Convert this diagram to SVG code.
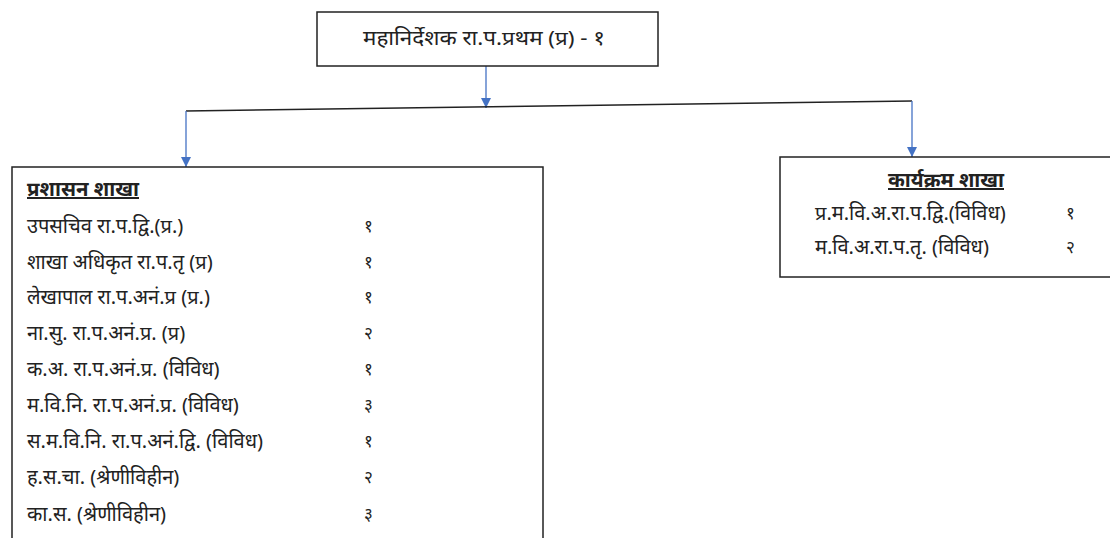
<svg xmlns="http://www.w3.org/2000/svg" width="1110" height="538" viewBox="0 0 1110 538">
<style>
text{font-family:"Noto Sans","Noto Sans Devanagari","Liberation Sans",sans-serif;font-size:20px;fill:#222}
.box{fill:#fff;stroke:#222;stroke-width:1.5}
.hd{text-decoration:underline;font-weight:bold}
.num{font-size:17px}
.con{stroke:#4472c4;stroke-width:1.3;fill:none}
.blk{stroke:#222;stroke-width:1.5;fill:none}
</style>
<defs>
<marker id="ah" viewBox="0 0 10 10" refX="10" refY="5" markerWidth="10" markerHeight="10" markerUnits="userSpaceOnUse" orient="auto">
<path d="M0,0 L10,5 L0,10 z" fill="#4472c4"/>
</marker>
</defs>
<g id="connectors">
<line class="con" x1="486" y1="66" x2="486" y2="108" marker-end="url(#ah)"/>
<line class="blk" x1="186" y1="111" x2="912" y2="101"/>
<line class="con" x1="186" y1="111" x2="186" y2="167" marker-end="url(#ah)"/>
<line class="con" x1="912" y1="101" x2="912" y2="157" marker-end="url(#ah)"/>
</g>
<g id="top">
<rect class="box" x="317" y="12" width="341" height="54"/>
<text x="484" y="45" text-anchor="middle" textLength="242" lengthAdjust="spacingAndGlyphs">महानिर्देशक रा.प.प्रथम (प्र) - १</text>
</g>
<g id="admin">
<rect class="box" x="12" y="167" width="531" height="380"/>
<text class="hd" x="27" y="196" textLength="112" lengthAdjust="spacingAndGlyphs">प्रशासन शाखा</text>
<text x="27" y="233">उपसचिव रा.प.द्वि.(प्र.)</text><text class="num" x="364" y="232">१</text>
<text x="27" y="269">शाखा अधिकृत रा.प.तृ (प्र)</text><text class="num" x="364" y="268">१</text>
<text x="27" y="304">लेखापाल रा.प.अनं.प्र (प्र.)</text><text class="num" x="364" y="303">१</text>
<text x="27" y="340">ना.सु. रा.प.अनं.प्र. (प्र)</text><text class="num" x="364" y="339">२</text>
<text x="27" y="376">क.अ. रा.प.अनं.प्र. (विविध)</text><text class="num" x="364" y="375">१</text>
<text x="27" y="412">म.वि.नि. रा.प.अनं.प्र. (विविध)</text><text class="num" x="364" y="411">३</text>
<text x="27" y="448">स.म.वि.नि. रा.प.अनं.द्वि. (विविध)</text><text class="num" x="364" y="447">१</text>
<text x="27" y="484">ह.स.चा. (श्रेणीविहीन)</text><text class="num" x="364" y="483">२</text>
<text x="27" y="521">का.स. (श्रेणीविहीन)</text><text class="num" x="364" y="520">३</text>
</g>
<g id="program">
<rect class="box" x="780" y="157" width="340" height="120"/>
<text class="hd" x="946" y="187" text-anchor="middle" textLength="116" lengthAdjust="spacingAndGlyphs">कार्यक्रम शाखा</text>
<text x="815" y="220">प्र.म.वि.अ.रा.प.द्वि.(विविध)</text><text class="num" x="1066" y="219">१</text>
<text x="815" y="254">म.वि.अ.रा.प.तृ. (विविध)</text><text class="num" x="1066" y="253">२</text>
</g>
</svg>
